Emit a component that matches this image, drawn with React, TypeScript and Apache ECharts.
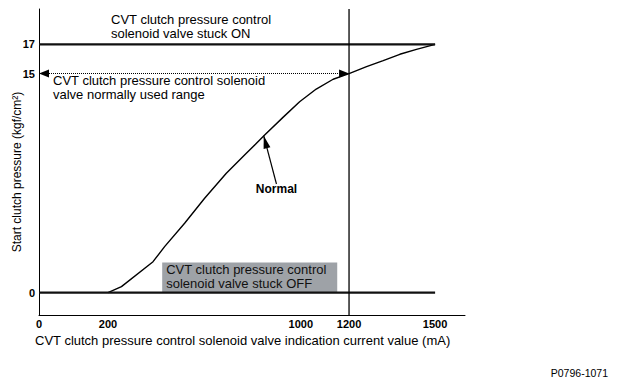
import React, { useEffect, useRef } from "react";
import * as echarts from "echarts";

// ---- data ----
const CURRENT_TICKS_MA = [0, 200, 1000, 1200, 1500];
const PRESSURE_TICKS = [0, 15, 17];

// "Normal" start clutch pressure curve (mA -> kgf/cm2)
const NORMAL_MA = [200, 256, 387, 435, 518, 601, 691, 774, 850, 926, 995, 1064, 1134, 1200, 1261, 1319, 1377, 1435, 1500];
const NORMAL_P = [0, 0.41, 2.12, 3.15, 4.75, 6.46, 8.17, 9.54, 10.79, 12.0, 13.07, 13.94, 14.61, 15, 15.47, 15.88, 16.32, 16.66, 17];

const STUCK_ON_P = 17;
const STUCK_OFF_P = 0;
const RANGE_P = 15;
const RANGE_START_MA = 0;
const RANGE_END_MA = 1200;
const MAX_MA = 1500;

// The source figure is schematic: the current axis is not uniform.
// Breakpoints (mA) and their position on the drawn axis.
const AXIS_BREAK_MA = [0, 200, 1200, 1500];
const AXIS_BREAK_POS = [-86, 200, 1200, 1557];
const X_AXIS_MIN = -86;
const X_AXIS_MAX = 1681;
const Y_AXIS_MIN = -1.53;
const Y_AXIS_MAX = 19.42;

// annotation anchors (data units)
const OFF_BOX_MA = [425, 1151];
const OFF_BOX_P = [0, 2.07];
const NORMAL_ARROW_FROM = [899, 7.44];
const NORMAL_ARROW_TO = [846, 10.75];

function toAxis(mA: number): number {
  const n = AXIS_BREAK_MA.length;
  let i = 0;
  while (i < n - 2 && mA > AXIS_BREAK_MA[i + 1]) i++;
  const m0 = AXIS_BREAK_MA[i], m1 = AXIS_BREAK_MA[i + 1];
  const p0 = AXIS_BREAK_POS[i], p1 = AXIS_BREAK_POS[i + 1];
  return p0 + ((mA - m0) * (p1 - p0)) / (m1 - m0);
}

const FONT = '"Liberation Sans", Arial, sans-serif';
const INK = "#000";

export default function App() {
  const ref = useRef<HTMLDivElement>(null);
  useEffect(() => {
    if (!ref.current) return;
    const chart = echarts.init(ref.current, null, { renderer: "svg" });
    const tickPos = CURRENT_TICKS_MA.map(toAxis);
    const option: any = {
      animation: false,
      grid: { left: 39, top: 9, width: 426, height: 306 },
      xAxis: {
        type: "value",
        min: X_AXIS_MIN,
        max: X_AXIS_MAX,
        axisLine: { onZero: false, lineStyle: { color: "#000", width: 1 } },
        axisTick: { show: false },
        splitLine: { show: false },
        axisLabel: {
          customValues: tickPos,
          formatter: (v: number) => {
            let best = 0;
            tickPos.forEach((p, i) => {
              if (Math.abs(p - v) < Math.abs(tickPos[best] - v)) best = i;
            });
            return String(CURRENT_TICKS_MA[best]);
          },
          fontFamily: FONT,
          fontSize: 11,
          fontWeight: "bold",
          color: INK,
          margin: 3,
        },
      },
      yAxis: {
        type: "value",
        min: Y_AXIS_MIN,
        max: Y_AXIS_MAX,
        axisLine: { show: true, onZero: false, lineStyle: { color: "#000", width: 1 } },
        axisTick: { show: false },
        splitLine: { show: false },
        axisLabel: {
          customValues: PRESSURE_TICKS,
          fontFamily: FONT,
          fontSize: 11,
          fontWeight: "bold",
          color: INK,
          margin: 4,
        },
      },
      series: [
        {
          type: "line",
          name: "off-box",
          data: [],
          silent: true,
          markArea: {
            silent: true,
            itemStyle: { color: "#9ea2a7" },
            label: {
              show: true,
              position: [4, 0],
              align: "left",
              verticalAlign: "top",
              fontFamily: FONT,
              fontSize: 13,
              lineHeight: 14.3,
              color: "#111",
            },
            data: [
              [
                {
                  name: "CVT clutch pressure control\nsolenoid valve stuck OFF",
                  coord: [toAxis(OFF_BOX_MA[0]), OFF_BOX_P[1]],
                },
                { coord: [toAxis(OFF_BOX_MA[1]), OFF_BOX_P[0]] },
              ],
            ],
          },
        },
        {
          type: "line",
          name: "Normal",
          data: NORMAL_MA.map((m, i) => [toAxis(m), NORMAL_P[i]]),
          symbol: "none",
          silent: true,
          lineStyle: { color: "#000", width: 1.4 },
        },
        {
          type: "line",
          name: "Stuck ON",
          data: [
            [toAxis(0), STUCK_ON_P],
            [toAxis(MAX_MA), STUCK_ON_P],
          ],
          symbol: "none",
          silent: true,
          lineStyle: { color: "#111", width: 2.4 },
        },
        {
          type: "line",
          name: "Stuck OFF",
          data: [
            [toAxis(0), STUCK_OFF_P],
            [toAxis(MAX_MA), STUCK_OFF_P],
          ],
          symbol: "none",
          silent: true,
          lineStyle: { color: "#111", width: 2.4 },
        },
        {
          type: "line",
          name: "1200 mA",
          data: [
            [toAxis(RANGE_END_MA), Y_AXIS_MIN],
            [toAxis(RANGE_END_MA), Y_AXIS_MAX],
          ],
          symbol: "none",
          silent: true,
          lineStyle: { color: "#000", width: 1.3 },
        },
        {
          type: "line",
          name: "range",
          data: [],
          silent: true,
          markLine: {
            silent: true,
            symbol: ["triangle", "triangle"],
            symbolSize: [8, 10],
            symbolOffset: [
              [0, 5],
              [0, 5],
            ],
            label: { show: false },
            lineStyle: { type: "dotted", color: "#000", width: 1 },
            data: [
              [
                { coord: [toAxis(RANGE_START_MA), RANGE_P] },
                { coord: [toAxis(RANGE_END_MA), RANGE_P] },
              ],
            ],
          },
        },
        {
          type: "line",
          name: "pointer",
          data: [],
          silent: true,
          markLine: {
            silent: true,
            symbol: ["none", "triangle"],
            symbolSize: [7, 13],
            symbolOffset: [
              [0, 0],
              [0, 6.5],
            ],
            label: { show: false },
            lineStyle: { type: "solid", color: "#000", width: 1.2 },
            data: [
              [
                { coord: [toAxis(NORMAL_ARROW_FROM[0]), NORMAL_ARROW_FROM[1]] },
                { coord: [toAxis(NORMAL_ARROW_TO[0]), NORMAL_ARROW_TO[1]] },
              ],
            ],
          },
        },
      ],
      graphic: [
        {
          type: "text",
          x: 111,
          y: 12.3,
          silent: true,
          style: {
            text: "CVT clutch pressure control\nsolenoid valve stuck ON",
            font: `13px ${FONT}`,
            lineHeight: 14,
            fill: INK,
            align: "left",
            verticalAlign: "top",
          },
        },
        {
          type: "text",
          x: 53,
          y: 72.9,
          silent: true,
          style: {
            text: "CVT clutch pressure control solenoid\nvalve normally used range",
            font: `13px ${FONT}`,
            lineHeight: 14.3,
            fill: INK,
            align: "left",
            verticalAlign: "top",
          },
        },
        {
          type: "text",
          x: 276.5,
          y: 189,
          silent: true,
          style: {
            text: "Normal",
            font: `bold 12px ${FONT}`,
            fill: INK,
            align: "center",
            verticalAlign: "middle",
          },
        },
        {
          type: "text",
          x: 17,
          y: 172,
          rotation: Math.PI / 2,
          silent: true,
          style: {
            text: "Start clutch pressure (kgf/cm²)",
            font: `12px ${FONT}`,
            fill: INK,
            align: "center",
            verticalAlign: "middle",
          },
        },
        {
          type: "text",
          x: 35,
          y: 340.7,
          silent: true,
          style: {
            text: "CVT clutch pressure control solenoid valve indication current value (mA)",
            font: `13px ${FONT}`,
            fill: INK,
            align: "left",
            verticalAlign: "middle",
          },
        },
        {
          type: "text",
          x: 608,
          y: 373.3,
          silent: true,
          style: {
            text: "P0796-1071",
            font: `10.5px ${FONT}`,
            fill: INK,
            align: "right",
            verticalAlign: "middle",
          },
        },
      ],
    };
    chart.setOption(option);
    return () => chart.dispose();
  }, []);
  return (
    <div
      ref={ref}
      style={{ position: "absolute", left: 0, top: 0, width: 617, height: 385, background: "#fff" }}
    />
  );
}
